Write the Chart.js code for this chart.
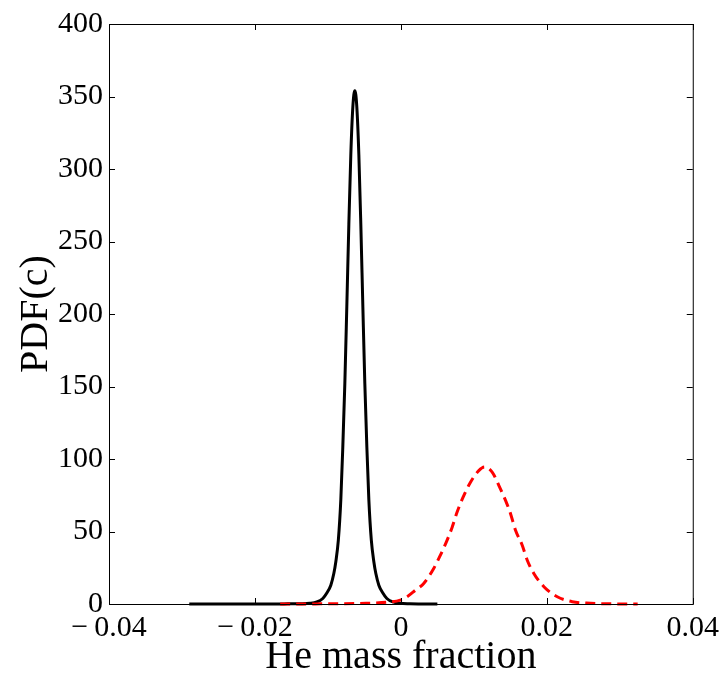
<!DOCTYPE html>
<html>
<head>
<meta charset="utf-8">
<script src="https://cdn.jsdelivr.net/npm/chart.js@4.4.0/dist/chart.umd.min.js"></script>
<style>
body { margin: 0; background: #fff; }
#wrap { width: 725px; height: 679px; }
</style>
</head>
<body>
<div id="wrap"><canvas id="pdf"></canvas></div>
<script>
// black solid curve
var blackX = [-0.029, -0.020, -0.016, -0.01386, -0.01248, -0.01152, -0.01070, -0.01015, -0.00960, -0.00919, -0.00892,
    -0.00857, -0.00823, -0.00796, -0.00768, -0.00741, -0.00713, -0.00686, -0.00658, -0.00631,
    -0.00604, -0.00576, -0.00549, -0.00521, -0.00494, -0.00466, -0.00439, -0.00405, -0.00370,
    -0.00343, -0.00302, -0.00247, -0.00192, -0.00110, -0.00014, 0.00124, 0.003, 0.005];
var blackY = [0, 0.02, 0.08, 0.2, 0.5, 1.4, 3.8, 7.6, 13, 21, 29,
    44, 72, 108, 152, 205, 262, 310, 343, 354,
    343, 310, 262, 205, 152, 108, 72, 44, 29,
    21, 13, 7.6, 3.8, 1.4, 0.5, 0.2, 0.05, 0];

// red dashed curve
var redX = [-0.01654, -0.01105, -0.00556, -0.00189, -0.00007, 0.00085, 0.00199, 0.00313, 0.00450, 0.00542, 0.00634,
    0.00703, 0.00771, 0.00853, 0.00954, 0.01068, 0.01146, 0.01251, 0.01342, 0.01434, 0.01503, 0.01571,
    0.01663, 0.01732, 0.01822, 0.01960, 0.02143, 0.02349, 0.0260, 0.02875, 0.03245];
var redY = [0, 0.1, 0.4, 1.2, 2.7, 5, 9.5, 14.2, 24.5, 33.7, 44,
    53, 63.4, 73.7, 84, 92, 94.5, 91, 81.8, 71.5, 62.3, 50.9,
    40.5, 30.2, 21.1, 11.9, 5, 1.6, 0.5, 0.1, 0];

var xMin = -0.04, xMax = 0.04, xStep = 0.02;
var yMin = 0, yMax = 400, yStep = 50;

function pts(xs, ys){
    var out = [];
    for (var i = 0; i < xs.length; i++) out.push({x: xs[i], y: ys[i]});
    return out;
}

var FONT = '"Liberation Serif", "Times New Roman", serif';

// box around plot + inward ticks on all four sides
var boxTicks = {
    id: 'boxTicks',
    afterDraw: function(chart){
        var c = chart.ctx, a = chart.chartArea;
        var sx = chart.scales.x, sy = chart.scales.y;
        var len = 6;
        c.save();
        c.strokeStyle = '#000';
        c.lineWidth = 1;
        c.strokeRect(a.left + 0.5, a.top + 0.5, a.right - a.left, a.bottom - a.top);
        c.beginPath();
        sx.ticks.forEach(function(t){
            var px = Math.round(sx.getPixelForValue(t.value)) + 0.5;
            c.moveTo(px, a.bottom); c.lineTo(px, a.bottom - len);
            c.moveTo(px, a.top); c.lineTo(px, a.top + len);
        });
        sy.ticks.forEach(function(t){
            var py = Math.round(sy.getPixelForValue(t.value)) + 0.5;
            c.moveTo(a.left, py); c.lineTo(a.left + len, py);
            c.moveTo(a.right, py); c.lineTo(a.right - len, py);
        });
        c.stroke();
        c.restore();
    }
};

var ctx = document.getElementById('pdf').getContext('2d');
var chart = new Chart(ctx, {
    type: 'line',
    data: {
        datasets: [{
            label: 'red',
            data: pts(redX, redY),
            borderColor: '#ff0000',
            borderWidth: 3,
            borderDash: [10, 6],
            pointRadius: 0,
            fill: false,
            cubicInterpolationMode: 'monotone',
            clip: false,
            order: 0
        }, {
            label: 'black',
            data: pts(blackX, blackY),
            borderColor: '#000000',
            borderWidth: 3,
            pointRadius: 0,
            fill: false,
            cubicInterpolationMode: 'monotone',
            clip: false,
            order: 1
        }]
    },
    options: {
        responsive: true,
        maintainAspectRatio: false,
        animation: false,
        layout: { padding: { left: 0, top: 19, right: 30, bottom: 0 } },
        plugins: { legend: { display: false }, tooltip: { enabled: false } },
        scales: {
            x: {
                type: 'linear',
                min: xMin, max: xMax,
                grid: { display: false, drawTicks: false },
                border: { display: false },
                afterFit: function(s){ s.height = 75; },
                ticks: {
                    stepSize: xStep,
                    padding: 6,
                    color: '#000',
                    maxRotation: 0,
                    autoSkip: false,
                    font: { family: FONT, size: 30 },
                    callback: function(v){
                        if (Math.abs(v) < 1e-9) return '0';
                        return (v < 0 ? '\u2212\u2009' : '') + Math.abs(v).toFixed(2);
                    }
                },
                title: {
                    display: true,
                    text: 'He mass fraction',
                    color: '#000',
                    padding: { top: 0, bottom: 0 },
                    font: { family: FONT, size: 40, lineHeight: 1.1 }
                }
            },
            y: {
                min: yMin, max: yMax,
                grid: { display: false, drawTicks: false },
                border: { display: false },
                afterFit: function(s){ s.width = 109; },
                ticks: {
                    stepSize: yStep,
                    padding: 6,
                    color: '#000',
                    font: { family: FONT, size: 30 }
                },
                title: {
                    display: true,
                    text: 'PDF(c)',
                    color: '#000',
                    padding: { top: 12, bottom: 0 },
                    font: { family: FONT, size: 40 }
                }
            }
        }
    },
    plugins: [boxTicks]
});
</script>
</body>
</html>
